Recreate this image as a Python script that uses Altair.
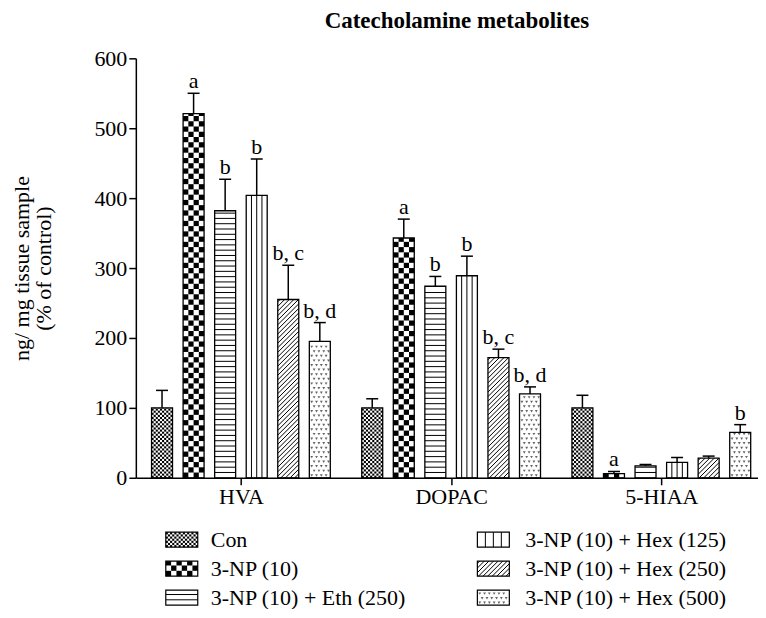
import json
import altair as alt
import numpy as np
import pandas as pd

# ---------------- data ----------------
groups = ["HVA", "DOPAC", "5-HIAA"]
series = ["Con", "3-NP (10)", "3-NP (10) + Eth (250)",
          "3-NP (10) + Hex (125)", "3-NP (10) + Hex (250)", "3-NP (10) + Hex (500)"]
patterns = ["fine_checker", "checker", "hlines", "vlines", "diag", "dots"]

hva_mean = [100, 521, 382, 404, 255, 195]
hva_sem = [25, 29, 45, 52, 49, 27]
dopac_mean = [100, 343, 274, 289, 172, 120]
dopac_sem = [13, 27, 14, 28, 12, 10]
hiaa_mean = [100, 6, 17, 22, 28, 65]
hiaa_sem = [18, 3, 2, 7, 3, 11]
hva_sig = ["", "a", "b", "b", "b, c", "b, d"]
dopac_sig = ["", "a", "b", "b", "b, c", "b, d"]
hiaa_sig = ["", "a", "", "", "", "b"]
y_ticks = [0, 100, 200, 300, 400, 500, 600]

means = [hva_mean, dopac_mean, hiaa_mean]
sems = [hva_sem, dopac_sem, hiaa_sem]
sigs = [hva_sig, dopac_sig, hiaa_sig]

# ---------------- layout / style ----------------
FONT = "Liberation Serif"
PLOT_W, PLOT_H = 623, 420
X_MAX, Y_MAX = 2.96, 600
PX_X = PLOT_W / X_MAX          # pixels per group unit
PX_Y = PLOT_H / Y_MAX          # pixels per value unit
BAR_STEP = 31.6 / PX_X
BAR_W = 21.0 / PX_X
CAP_HALF = 6.0 / PX_X


def pattern(kind, x0, y0, w, h):
    """pattern elements in pixel coordinates (y up) inside rect x0..x0+w, y0..y0+h"""
    rects, segs, dots = [], [], []
    if kind in ("fine_checker", "checker"):
        cell = 2.1 if kind == "fine_checker" else 5.3
        nx = max(1, int(round(w / cell)))
        c = w / nx
        ny = int(np.ceil(h / c - 1e-6))
        for j in range(ny):
            for i in range(nx):
                if (i + j) % 2 == 0:
                    rects.append((x0 + i * c, x0 + (i + 1) * c,
                                  y0 + j * c, min(y0 + (j + 1) * c, y0 + h)))
    elif kind == "hlines":
        step = 5.3
        k = 1
        while k * step < h - 1.0:
            segs.append((x0, x0 + w, y0 + k * step, y0 + k * step))
            k += 1
    elif kind == "vlines":
        for f in (0.25, 0.5, 0.75):
            segs.append((x0 + f * w, x0 + f * w, y0, y0 + h))
    elif kind == "diag":
        step = 4.6
        for c in np.arange(-h + step / 2, w, step):
            xa, xb = max(0.0, c), min(w, c + h)
            if xb - xa > 0.4:
                segs.append((x0 + xa, x0 + xb, y0 + xa - c, y0 + xb - c))
    elif kind == "dots":
        sx, sy = 4.8, 4.6
        j = 0
        yy = sy / 2
        while yy < h - 1.5:
            xx = sx / 2 + (sx / 2 if j % 2 else 0)
            while xx < w - 1.5:
                dots.append((x0 + xx, y0 + yy))
                xx += sx
            yy += sy
            j += 1
    return rects, segs, dots


# ---------------- main chart tables ----------------
bar_rows, err_rows, rect_rows, seg_rows, dot_rows, txt_rows = [], [], [], [], [], []
for g, grp in enumerate(groups):
    for i, s in enumerate(series):
        xc = g + 0.5 + (i - 2.5) * BAR_STEP
        v, e, lab = means[g][i], sems[g][i], sigs[g][i]
        bar_rows.append(dict(group=grp, series=s, x=xc - BAR_W / 2, x2=xc + BAR_W / 2, y=0, y2=v))
        err_rows.append(dict(x=xc, y=v, y2=v + e, c0=xc - CAP_HALF, c1=xc + CAP_HALF))
        if lab:
            txt_rows.append(dict(x=xc, y=v + e, label=lab))
        r, sg, d = pattern(patterns[i], (xc - BAR_W / 2) * PX_X, 0.0, BAR_W * PX_X, v * PX_Y)
        rect_rows += [dict(x=a / PX_X, x2=b / PX_X, y=c / PX_Y, y2=dd / PX_Y) for a, b, c, dd in r]
        seg_rows += [dict(x=a / PX_X, x2=b / PX_X, y=c / PX_Y, y2=dd / PX_Y) for a, b, c, dd in sg]
        dot_rows += [dict(x=a / PX_X, y=b / PX_Y) for a, b in d]

bars = pd.DataFrame(bar_rows)
errs = pd.DataFrame(err_rows)
prects = pd.DataFrame(rect_rows)
psegs = pd.DataFrame(seg_rows)
pdots = pd.DataFrame(dot_rows)
texts = pd.DataFrame(txt_rows)

xs = alt.Scale(domain=[0, X_MAX], nice=False, zero=False)
ys = alt.Scale(domain=[0, Y_MAX], nice=False)

label_expr = "%s[floor(datum.value)]" % json.dumps(groups)
x_axis = alt.Axis(values=[0.5, 1.5, 2.5], labelExpr=label_expr, title=None, grid=False,
                  domainColor="black", domainWidth=1.5, tickColor="black", tickWidth=1.5,
                  tickSize=7, labelFont=FONT, labelFontSize=22, labelColor="black",
                  labelPadding=2)
y_axis = alt.Axis(values=y_ticks, format="d", grid=False,
                  title=["ng/ mg tissue sample", "(% of control)"],
                  titleFont=FONT, titleFontSize=22, titleFontWeight="normal",
                  titleColor="black", titleLineHeight=22, titlePadding=38,
                  domainColor="black", domainWidth=1.5, tickColor="black", tickWidth=1.5,
                  tickSize=7, labelFont=FONT, labelFontSize=22, labelColor="black",
                  labelPadding=2)

X = alt.X("x:Q", scale=xs, axis=x_axis)
Y = alt.Y("y:Q", scale=ys, axis=y_axis)

pat_rects = alt.Chart(prects).mark_rect(color="black", strokeWidth=0).encode(
    x=X, x2="x2:Q", y=Y, y2="y2:Q")
pat_segs = alt.Chart(psegs).mark_rule(color="black", strokeWidth=1).encode(
    x=X, x2="x2:Q", y=Y, y2="y2:Q")
pat_dots = alt.Chart(pdots).mark_point(shape="triangle-down", filled=True, size=8,
                                        color="#222222", strokeWidth=0).encode(x=X, y=Y)
outline = alt.Chart(bars).mark_rect(fill="transparent", stroke="black", strokeWidth=1.3).encode(
    x=X, x2="x2:Q", y=Y, y2="y2:Q")
err_line = alt.Chart(errs).mark_rule(color="black", strokeWidth=1.5).encode(
    x=X, y=Y, y2="y2:Q")
err_cap = alt.Chart(errs).mark_rule(color="black", strokeWidth=1.5).encode(
    x=alt.X("c0:Q", scale=xs, axis=x_axis), x2="c1:Q",
    y=alt.Y("y2:Q", scale=ys, axis=y_axis))
sig_text = alt.Chart(texts).mark_text(font=FONT, fontSize=22, color="black",
                                      baseline="alphabetic", dy=-5).encode(
    x=X, y=Y, text="label:N")

main = alt.layer(outline, pat_rects, pat_segs, pat_dots, err_line, err_cap, sig_text).properties(
    width=PLOT_W, height=PLOT_H,
    title=alt.TitleParams("Catecholamine metabolites", font=FONT, fontSize=23,
                          fontWeight="bold", color="black", anchor="middle",
                          frame="group", offset=14, dx=10))

# ---------------- legend (drawn as a small chart, aligned to the plot's left edge) ----------------
LEG_W, LEG_H = 615, 81
SYM_W, SYM_H = 32, 15
col_sym_x = [30, 342]
col_txt_x = [75, 390]
row_y_from_top = [13, 42, 71]

lsym, ltxt, lrect, lseg, ldot = [], [], [], [], []
for k, s in enumerate(series):
    col, row = k // 3, k % 3
    x0 = col_sym_x[col]
    yc = LEG_H - row_y_from_top[row]
    y0 = yc - SYM_H / 2
    lsym.append(dict(x=x0, x2=x0 + SYM_W, y=y0, y2=y0 + SYM_H))
    ltxt.append(dict(x=col_txt_x[col], y=yc, label=s))
    r, sg, d = pattern(patterns[k], x0, y0, SYM_W, SYM_H)
    lrect += [dict(x=a, x2=b, y=c, y2=dd) for a, b, c, dd in r]
    lseg += [dict(x=a, x2=b, y=c, y2=dd) for a, b, c, dd in sg]
    ldot += [dict(x=a, y=b) for a, b in d]

lxs = alt.Scale(domain=[0, LEG_W], nice=False, zero=False)
lys = alt.Scale(domain=[0, LEG_H], nice=False, zero=False)
LX = alt.X("x:Q", scale=lxs, axis=None)
LY = alt.Y("y:Q", scale=lys, axis=None)

leg_layers = [
    alt.Chart(pd.DataFrame(lrect)).mark_rect(color="black", strokeWidth=0).encode(
        x=LX, x2="x2:Q", y=LY, y2="y2:Q"),
    alt.Chart(pd.DataFrame(lseg)).mark_rule(color="black", strokeWidth=1).encode(
        x=LX, x2="x2:Q", y=LY, y2="y2:Q"),
    alt.Chart(pd.DataFrame(ldot)).mark_point(shape="triangle-down", filled=True, size=8,
                                             color="#222222", strokeWidth=0).encode(x=LX, y=LY),
    alt.Chart(pd.DataFrame(lsym)).mark_rect(fill="transparent", stroke="black", strokeWidth=1.2).encode(
        x=LX, x2="x2:Q", y=LY, y2="y2:Q"),
    alt.Chart(pd.DataFrame(ltxt)).mark_text(font=FONT, fontSize=22, color="black",
                                            align="left", baseline="middle").encode(
        x=LX, y=LY, text="label:N"),
]
legend = alt.layer(*leg_layers).properties(width=LEG_W, height=LEG_H)

chart = alt.vconcat(main, legend, spacing=19).properties(
    padding={"top": 2, "left": 3, "right": 0, "bottom": 0}).configure_view(stroke=None)

chart.save("out.html", embed_options={"renderer": "svg", "actions": False})
